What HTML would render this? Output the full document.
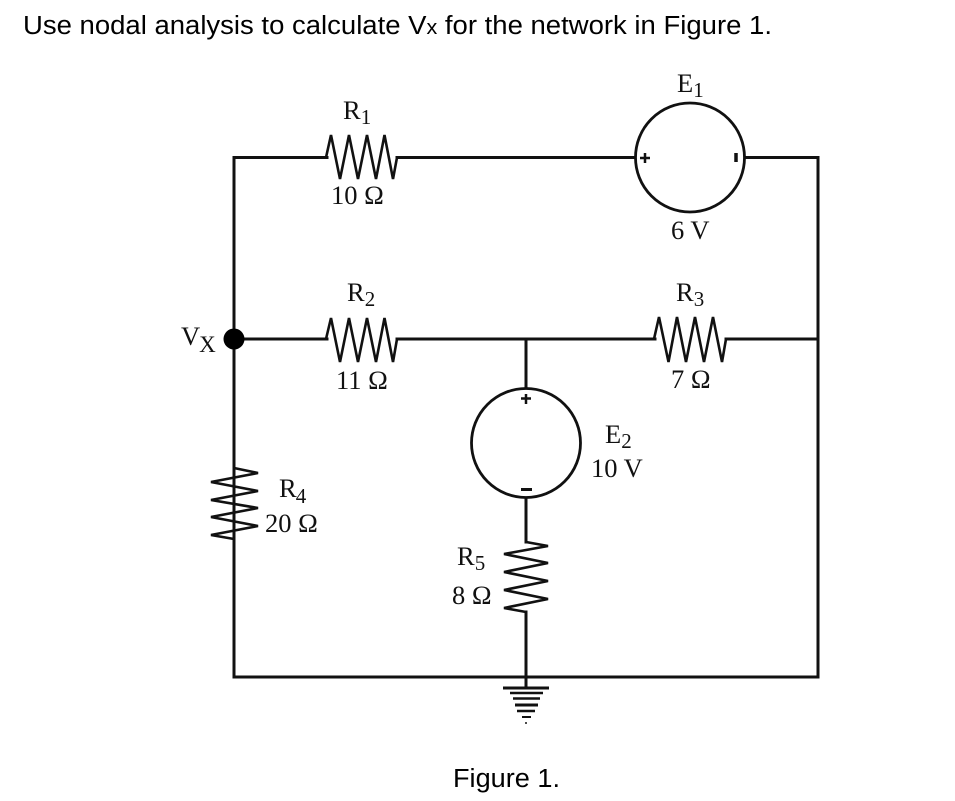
<!DOCTYPE html>
<html>
<head>
<meta charset="utf-8">
<style>
html,body{margin:0;padding:0;background:#fff;width:955px;height:801px;overflow:hidden}
svg{display:block}
.h{font-family:"Liberation Sans",Arial,sans-serif;font-size:25.5px;fill:#000}
.s{font-family:"Liberation Serif","Times New Roman",serif;font-size:26.5px;fill:#111}
.b{font-size:21px}
.x{font-size:23px}
.w{fill:none;stroke:#111;stroke-width:3;stroke-linejoin:miter;stroke-linecap:square}
.z{fill:none;stroke:#111;stroke-width:2.6;stroke-linejoin:miter;stroke-linecap:butt}
.c{fill:#fff;stroke:#111;stroke-width:2.8}
.g{stroke:#111;fill:none}
.soft{filter:blur(.35px)}
</style>
</head>
<body>
<svg width="955" height="801" viewBox="0 0 955 801" xmlns="http://www.w3.org/2000/svg">
<text class="h" x="23" y="34" textLength="749" lengthAdjust="spacingAndGlyphs">Use nodal analysis to calculate V<tspan font-size="20">x</tspan> for the network in Figure 1.</text>
<text class="h" x="453" y="787" textLength="107" lengthAdjust="spacingAndGlyphs">Figure 1.</text>

<g class="soft">
<!-- wires -->
<path class="w" d="M327 157.5H234V677H818V157.5H745"/>
<path class="w" d="M397 157.5H635"/>
<path class="w" d="M234 339H327"/>
<path class="w" d="M397 339H655"/>
<path class="w" d="M726 339H818"/>
<path class="w" d="M526 339V388"/>
<path class="w" d="M526 498V542"/>
<path class="w" d="M526 612V688"/>
<path class="w" d="M234 348V468"/>
<path class="w" d="M234 539V677"/>

<!-- R1 -->
<path class="z" d="M326 157.5L331 135L340 179L349 135L358 179L367 135L376 179L384.500 135L393 179L397 157.500"/>
<!-- R2 -->
<path class="z" d="M326 339L331 318L340 362L349 318L358 362L367 318L376 362L384.500 318L393 362L397 339"/>
<!-- R3 -->
<path class="z" d="M654 339L659 317L668.500 362L677 317L686 362L695 317L704 362L713 317L722 362L726 339"/>
<!-- R4 -->
<path class="z" d="M234 468L258 473L211 482L258 491L211 500L258 508L211 517L258 526L211 535L234 539"/>
<!-- R5 -->
<path class="z" d="M526 542L548 546L504 554L548 563L504 572L548 581L504 590L548 599L504 608L526 612"/>

<!-- node -->
<circle cx="234" cy="339" r="10.500" fill="#000"/>

<!-- E1 -->
<circle class="c" cx="690" cy="157.500" r="54.500"/>
<path class="g" stroke-width="2.500" d="M640 158H650M645 153V163"/>
<path class="g" stroke-width="3.500" d="M736 153V162"/>

<!-- E2 -->
<circle class="c" cx="526" cy="443" r="54.500"/>
<path class="g" stroke-width="2.500" d="M521 398.500H531M526 394V404"/>
<path class="g" stroke-width="3" d="M521 489.500H532"/>

<!-- ground -->
<path class="g" stroke-width="3" d="M503 688H549"/>
<path class="g" stroke-width="2.500" d="M510 693H543M513 698.500H540"/>
<path class="g" stroke-width="3" d="M515 705H538"/>
<path class="g" stroke-width="2.500" d="M517 711H535"/>
<path class="g" stroke-width="2" d="M522 717H531"/>
<path class="g" stroke-width="1.500" stroke="#777" d="M526 722V724"/>
</g>

<!-- labels -->
<text class="s" x="343" y="119">R<tspan class="b" dy="5">1</tspan></text>
<text class="s" x="331" y="204">10 Ω</text>
<text class="s" x="347" y="301">R<tspan class="b" dy="5">2</tspan></text>
<text class="s" x="336" y="389">11 Ω</text>
<text class="s" x="181" y="345">V<tspan class="x" dy="7" dx="-1">X</tspan></text>
<text class="s" x="677" y="92">E<tspan class="b" dy="5">1</tspan></text>
<text class="s" x="671" y="239">6 V</text>
<text class="s" x="676" y="301">R<tspan class="b" dy="5">3</tspan></text>
<text class="s" x="671" y="388">7 Ω</text>
<text class="s" x="605" y="443">E<tspan class="b" dy="5">2</tspan></text>
<text class="s" x="591" y="477">10 V</text>
<text class="s" x="279" y="497">R<tspan class="b" dy="6" dx="-1">4</tspan></text>
<text class="s" x="265" y="532">20 Ω</text>
<text class="s" x="457" y="565">R<tspan class="b" dy="5">5</tspan></text>
<text class="s" x="452" y="604">8 Ω</text>
</svg>
</body>
</html>
